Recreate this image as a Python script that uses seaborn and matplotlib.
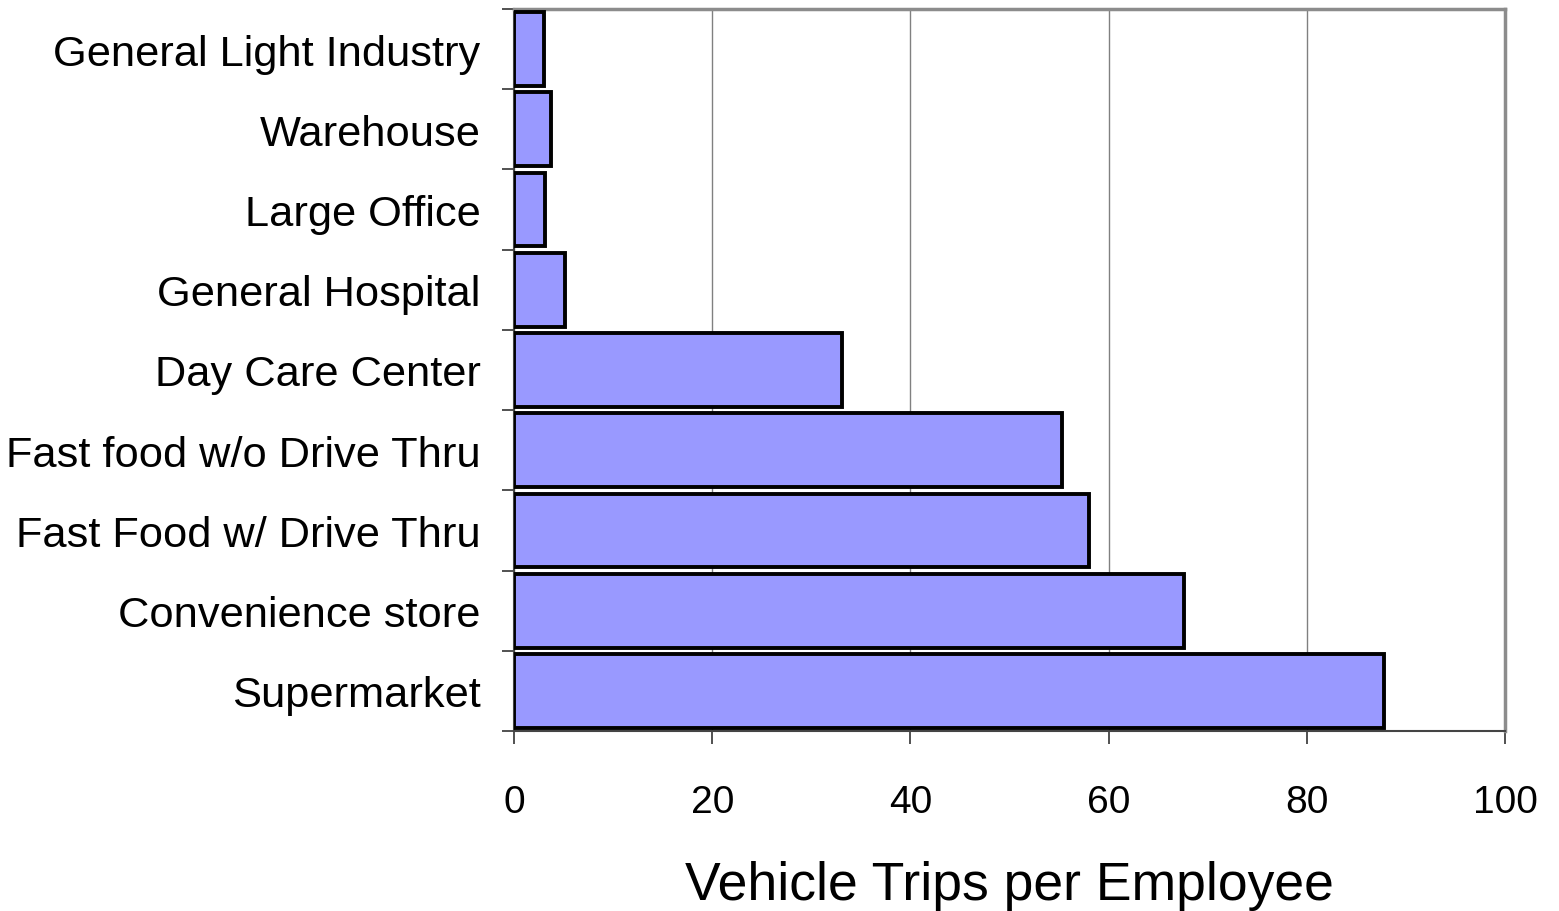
import matplotlib
matplotlib.use("Agg")
import matplotlib.pyplot as plt
import seaborn as sns
import pandas as pd
import numpy as np

categories = ["General Light Industry", "Warehouse", "Large Office", "General Hospital",
              "Day Care Center", "Fast food w/o Drive Thru", "Fast Food w/ Drive Thru",
              "Convenience store", "Supermarket"]
values = [3.0, 3.7, 3.1, 5.1, 33.1, 55.3, 58.0, 67.6, 87.8]
x_ticks = [0, 20, 40, 60, 80, 100]

sns.set_style("white")
plt.rcParams['font.family'] = ['Liberation Sans', 'DejaVu Sans']
plt.rcParams['text.color'] = 'black'
plt.rcParams['xtick.color'] = 'black'
plt.rcParams['ytick.color'] = 'black'
plt.rcParams['axes.labelcolor'] = 'black'

df = pd.DataFrame({"cat": categories, "val": values})

fig = plt.figure(figsize=(15.59, 9.12), dpi=100)
ax = fig.add_axes([514/1559, 1 - 732/912, (1505-514)/1559, (732-10)/912])

sns.barplot(data=df, x="val", y="cat", order=categories, orient="h",
            color="#9999FF", saturation=1, edgecolor="black", linewidth=2.8,
            width=0.92, ax=ax, zorder=3)

ax.set_xlim(0, 100)
ax.set_ylim(len(categories) - 0.5, -0.5)
ax.set_xticks(x_ticks)
ax.set_xticklabels([str(t) for t in x_ticks], fontsize=28)
ax.tick_params(axis='x', length=9, width=1.2, color='#333333', pad=29, direction='out', bottom=True)
ax.tick_params(axis='y', which='major', length=0, pad=24, labelsize=31.2)
ax.set_yticks(np.arange(-0.5, len(categories) + 0.5, 1), minor=True)
ax.tick_params(axis='y', which='minor', length=9, width=1.2, color='#333333', direction='out', left=True)

ax.grid(axis='x', color='#808080', linewidth=1.0, zorder=0)
ax.set_axisbelow(True)

for s in ['top', 'right']:
    ax.spines[s].set_color('#8c8c8c')
    ax.spines[s].set_linewidth(2.5)
for s in ['left', 'bottom']:
    ax.spines[s].set_color('#444444')
    ax.spines[s].set_linewidth(1.5)

ax.set_ylabel("")
ax.set_xlabel("Vehicle Trips per Employee", fontsize=38.5, labelpad=29)

fig.savefig("out.png", dpi=100)
